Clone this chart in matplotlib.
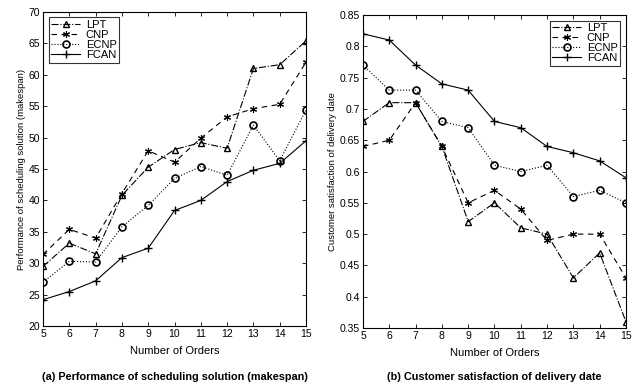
import numpy as np
import matplotlib
matplotlib.use("Agg")
import matplotlib.pyplot as plt

plt.rcParams['font.family'] = ['Liberation Sans', 'DejaVu Sans']

orders = [5, 6, 7, 8, 9, 10, 11, 12, 13, 14, 15]

# (a) makespan
mk_lpt = [29.5, 33.2, 31.5, 40.8, 45.3, 48.1, 49.2, 48.3, 61.0, 61.6, 65.4]
mk_cnp = [31.4, 35.4, 34.0, 41.1, 47.9, 46.1, 49.9, 53.3, 54.6, 55.3, 62.0]
mk_ecnp = [27.0, 30.3, 30.2, 35.8, 39.2, 43.5, 45.4, 44.0, 52.0, 46.3, 54.4]
mk_fcan = [24.2, 25.5, 27.2, 30.9, 32.4, 38.4, 40.0, 43.0, 44.8, 45.9, 49.5]

# (b) customer satisfaction
cs_lpt = [0.68, 0.71, 0.71, 0.64, 0.52, 0.55, 0.51, 0.50, 0.43, 0.47, 0.36]
cs_cnp = [0.64, 0.65, 0.71, 0.64, 0.55, 0.57, 0.54, 0.49, 0.50, 0.50, 0.43]
cs_ecnp = [0.77, 0.73, 0.73, 0.68, 0.67, 0.61, 0.60, 0.61, 0.56, 0.57, 0.55]
cs_fcan = [0.82, 0.81, 0.77, 0.74, 0.73, 0.68, 0.67, 0.64, 0.63, 0.617, 0.59]

names = ['LPT', 'CNP', 'ECNP', 'FCAN']
styles = [
    dict(ls='-.', marker='^', ms=5, mfc='none'),
    dict(ls=(0, (5, 4)), marker=(6, 2, 0), ms=5, mew=0.8),
    dict(ls=':', marker='o', ms=5, mfc='none', mew=1.2),
    dict(ls='-', marker='+', ms=6),
]

fig = plt.figure(figsize=(6.43, 3.85), dpi=100)
ax1 = fig.add_axes([0.0669, 0.153, 0.409, 0.816])
ax2 = fig.add_axes([0.5645, 0.148, 0.409, 0.813])


def draw(ax, series, ylim, yticks, ylabel, caption, loc):
    for name, ys, st in zip(names, series, styles):
        ax.plot(orders, ys, color='black', lw=0.8, mec='black', label=name, **st)
    ax.set_xlim(5, 15)
    ax.set_ylim(*ylim)
    ax.set_xticks(orders)
    ax.set_yticks(yticks)
    ax.set_yticklabels([('%g' % t) for t in yticks])
    ax.tick_params(direction='in', top=True, right=True, labelsize=7.5, length=3,
                   width=0.6, pad=2)
    for sp in ax.spines.values():
        sp.set_linewidth(0.8)
    ax.set_xlabel('Number of Orders', fontsize=8, labelpad=5)
    ax.set_ylabel(ylabel, fontsize=6.8, labelpad=2)
    pos = ax.get_position()
    fig.text((pos.x0 + pos.x1) / 2, 0.022, caption, ha='center', va='center',
             fontsize=7.8, fontweight='bold')
    leg = ax.legend(loc=loc, fontsize=8, frameon=True, fancybox=False,
                    edgecolor='black', handlelength=2.6, borderpad=0.25,
                    labelspacing=0.0, handletextpad=0.5, borderaxespad=0.5)
    leg.get_frame().set_linewidth(0.8)


draw(ax1, [mk_lpt, mk_cnp, mk_ecnp, mk_fcan], (20, 70), np.arange(20, 71, 5),
     'Performance of scheduling solution (makespan)',
     '(a) Performance of scheduling solution (makespan)', 'upper left')
draw(ax2, [cs_lpt, cs_cnp, cs_ecnp, cs_fcan], (0.35, 0.85),
     [0.35, 0.4, 0.45, 0.5, 0.55, 0.6, 0.65, 0.7, 0.75, 0.8, 0.85],
     'Customer satisfaction of delivery date',
     '(b) Customer satisfaction of delivery date', 'upper right')

fig.savefig('out.png', dpi=100)
